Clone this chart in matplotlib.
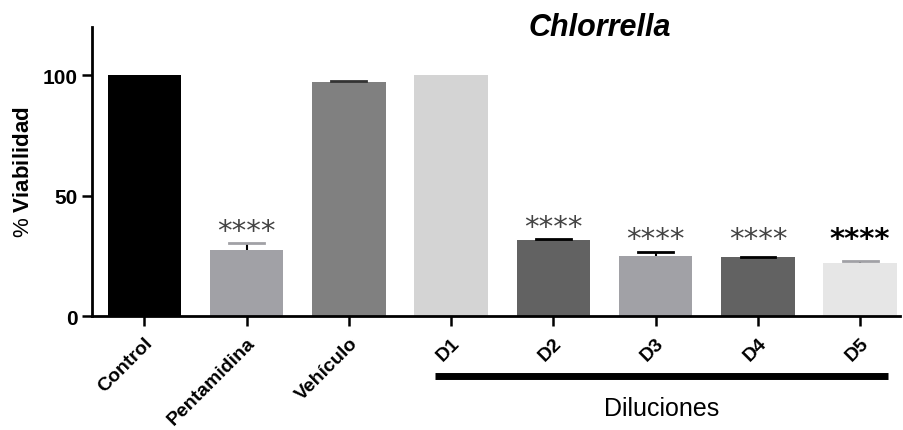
import numpy as np
import matplotlib.pyplot as plt

plt.rcParams['font.family'] = ['Liberation Sans', 'DejaVu Sans']
plt.rcParams['mathtext.fontset'] = 'custom'
plt.rcParams['mathtext.bf'] = 'Liberation Sans:bold'
plt.rcParams['mathtext.rm'] = 'Liberation Sans'

# Viability data (% of control)
groups = ['Control', 'Pentamidina', 'Vehículo', 'D1', 'D2', 'D3', 'D4', 'D5']
viability = [100, 27.5, 97, 100, 31.7, 25, 24.3, 22]
errors = [0, 3, 0.4, 0, 0.4, 1.5, 0.4, 1]
signif = ['', '****', '', '', '****', '****', '****', '****']

bar_colors = ['#000000', '#a1a1a6', '#808080', '#d4d4d4',
              '#626262', '#a1a1a6', '#626262', '#e6e6e6']
cap_colors = ['#000000', '#a1a1a6', '#333333', '#000000',
              '#000000', '#000000', '#000000', '#a1a1a6']
star_colors = ['#444444'] * 7 + ['#000000']

fig = plt.figure(figsize=(9.04, 4.31), dpi=100)
ax = fig.add_axes([0.102, 0.2645, 0.8936, 0.6705])

x = np.arange(len(groups))
ax.bar(x, viability, width=0.72, color=bar_colors, zorder=2)
for xi, v, e, cc in zip(x, viability, errors, cap_colors):
    if e > 0:
        ax.errorbar(xi, v, yerr=[[0], [e]], fmt='none', ecolor='#000000',
                    elinewidth=1.5, capsize=0, zorder=3)
        ax.plot([xi - 0.17, xi + 0.17], [v + e, v + e], color=cc, lw=2, zorder=3)

# significance stars, kept on a common baseline for the low bars
for xi, v, e, s, sc in zip(x, viability, errors, signif, star_colors):
    if s:
        ax.text(xi, max(v + e + 5, 32), s, ha='center', va='center',
                fontsize=21, color=sc,
                fontweight='bold' if sc == '#000000' else 'normal',
                family='DejaVu Sans')

ax.set_xlim(-0.51, 7.39)
ax.set_ylim(0, 120)
ax.set_yticks([0, 50, 100])
ax.set_yticklabels(['0', '50', '100'], fontsize=15, fontweight='bold')
ax.set_xticks(x)
ax.set_xticklabels(groups, rotation=45, ha='right', rotation_mode='anchor',
                   fontsize=14, fontweight='bold')
ax.tick_params(axis='both', direction='out', width=1.8, length=7)
ax.tick_params(axis='x', pad=6)

for side in ['top', 'right']:
    ax.spines[side].set_visible(False)
for side in ['left', 'bottom']:
    ax.spines[side].set_linewidth(2)

ax.set_ylabel(r'% $\mathbf{Viabilidad}$', fontsize=16)
ax.yaxis.set_label_coords(-0.072, 0.5)

fig.text(0.664, 0.935, 'Chlorrella', ha='center', va='center', fontsize=22,
         fontweight='bold', style='italic')

# Bracket grouping the dilutions
ax.plot([3 - 0.16, 7 + 0.27], [-25, -25], color='black', lw=5,
        clip_on=False, solid_capstyle='butt')
ax.text(5.06, -38, 'Diluciones', ha='center', va='center', fontsize=18)

fig.savefig('out.png', dpi=100)
